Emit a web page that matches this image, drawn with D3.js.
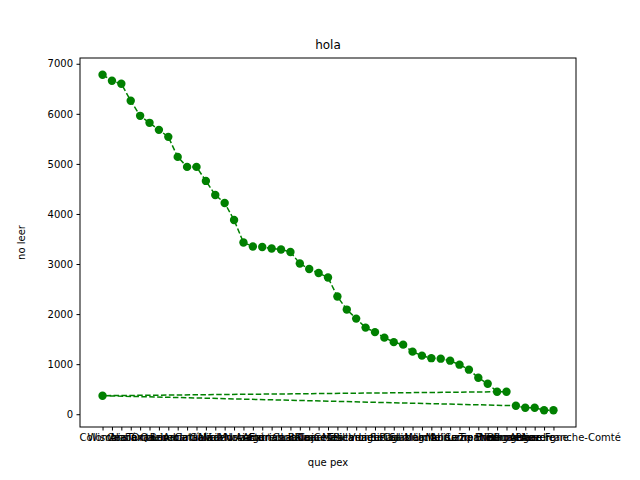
<!DOCTYPE html>
<html><head><meta charset="utf-8">
<script src="https://cdn.jsdelivr.net/npm/d3@7"></script>
<style>body{margin:0;background:#fff}</style></head>
<body><svg id="c" width="640" height="480"></svg>
<script>
const categories = ["Colombia","Wisconsin","Ceará","Alabama","Texas","Ontario","Quebec","Bavaria","Lombardía","Andalucía","Cataluña","Galicia","Madrid","Valencia","Murcia","Navarra","Aragón","Asturias","Cantabria","Extremadura","Castilla","La Rioja","Baleares","Canarias","Ceuta","Melilla","Toscana","Piemonte","Veneto","Liguria","Sicilia","Puglia","Calabria","Sardegna","Marche","Umbria","Molise","Abruzzo","Lazio","Campania","Trentino","Friuli","Bretagne","Normandie","Provence","Alsace","Picardie","Auvergne","Bourgogne Franche-Comté"];
const xOrder = [0,1,2,3,4,5,6,7,8,9,10,11,12,13,14,15,16,17,18,19,20,21,22,23,24,25,26,27,28,29,30,31,32,33,34,35,36,37,38,39,40,41,42,43,0,44,45,46,47,48];
const values = [6780,6660,6600,6260,5960,5820,5680,5540,5140,4940,4940,4660,4380,4220,3880,3430,3350,3340,3310,3290,3240,3010,2900,2820,2730,2350,2090,1910,1730,1640,1530,1440,1390,1250,1170,1120,1110,1070,990,890,730,610,450,450,370,170,130,130,80,80];
const yTicks = [0,1000,2000,3000,4000,5000,6000,7000];

const svg = d3.select("#c");
const L=80,R=576,T=58,B=427;
const x = d3.scaleLinear().domain([-2.4,50.4]).range([L,R]);
const y = d3.scaleLinear().domain([-255,7115]).range([B,T]);
const pts = values.map((v,i)=>({x:xOrder[i],v}));

svg.append("path").datum(pts)
  .attr("d", d3.line().x(d=>x(d.x)).y(d=>y(d.v)))
  .attr("fill","none").attr("stroke","green").attr("stroke-width",1.5).attr("stroke-dasharray","5.5,2.4");
svg.selectAll("circle").data(pts).join("circle")
  .attr("cx",d=>x(d.x)).attr("cy",d=>y(d.v)).attr("r",4.2).attr("fill","green");

svg.append("rect").attr("x",L).attr("y",T).attr("width",R-L).attr("height",B-T)
  .attr("fill","none").attr("stroke","black").attr("stroke-width",1);

const yAxis = svg.append("g").attr("transform",`translate(${L},0)`)
  .call(d3.axisLeft(y).tickValues(yTicks).tickSize(3.5).tickPadding(3.5).tickFormat(d3.format("d")));
yAxis.select(".domain").remove();
yAxis.selectAll("text").style("font-family","DejaVu Sans").style("font-size","10px").attr("fill","black");

const xAxis = svg.append("g").attr("transform",`translate(0,${B})`)
  .call(d3.axisBottom(x).tickValues(d3.range(categories.length)).tickSize(3.5).tickPadding(3.5).tickFormat(i=>categories[i]));
xAxis.select(".domain").remove();
xAxis.selectAll("text").style("font-family","DejaVu Sans").style("font-size","10px").attr("fill","black");

svg.append("text").attr("x",(L+R)/2).attr("y",49).attr("text-anchor","middle")
  .style("font-family","DejaVu Sans").style("font-size","12px").text("hola");
svg.append("text").attr("x",(L+R)/2).attr("y",466).attr("text-anchor","middle")
  .style("font-family","DejaVu Sans").style("font-size","10px").text("que pex");
svg.append("text").attr("transform",`translate(25,${(T+B)/2}) rotate(-90)`).attr("text-anchor","middle")
  .style("font-family","DejaVu Sans").style("font-size","10px").text("no leer");
</script></body></html>
